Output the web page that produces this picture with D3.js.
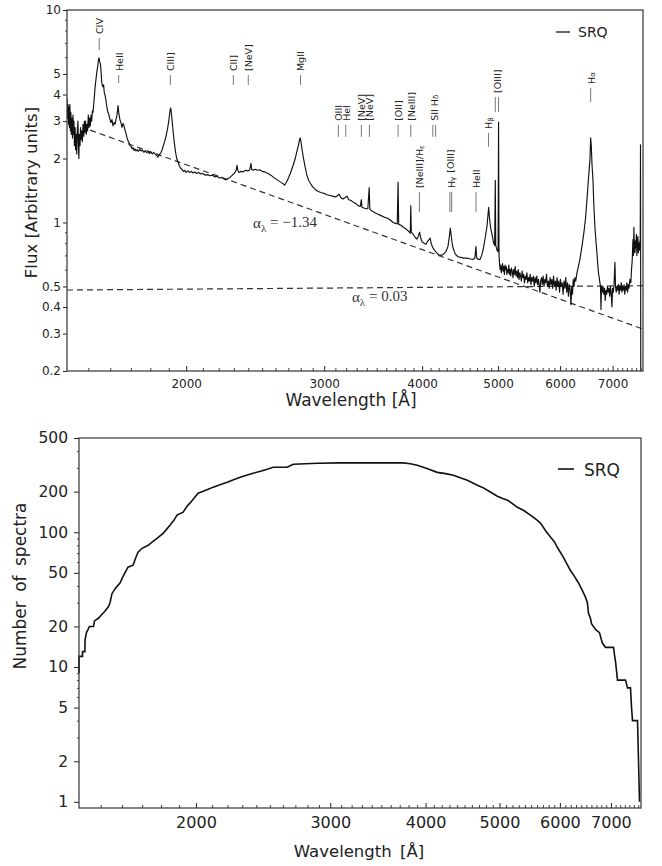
<!DOCTYPE html>
<html>
<head>
<meta charset="utf-8">
<script src="https://cdn.jsdelivr.net/npm/d3@7"></script>
<style>
  body { margin: 0; background: #fff; }
  svg { display: block; }
</style>
</head>
<body>
<div id="chart"></div>
<script>
// ---- data ----
// composite spectrum: [wavelength (A), flux]
const srqSpectrum = [
  [1409,3.85],[1411,3.1],[1413,3.6],[1415,2.9],[1417,3.5],[1419,2.8],[1421,3.6],[1423,2.7],
  [1425,3.3],[1427,2.6],[1430,3.1],[1432,2.5],[1434,3.2],[1436,2.6],[1438,3.0],[1440,2.3],
  [1443,2.8],[1445,2.2],[1447,2.6],[1450,2.1],[1452,2.7],[1455,3.0],[1457,2.3],[1459,2.0],
  [1461,2.6],[1464,2.3],[1466,2.8],[1468,2.45],[1471,2.7],[1474,2.4],[1477,2.9],[1480,2.55],
  [1483,3.0],[1485,2.65],[1488,3.0],[1491,2.6],[1494,2.9],[1497,2.7],[1500,3.2],[1503,2.8],
  [1506,3.1],[1509,2.85],[1512,3.2],[1515,3.0],[1518,3.35],[1521,3.3],[1524,3.6],[1527,3.9],
  [1530,4.3],[1533,4.6],[1536,4.9],[1539,5.2],[1542,5.4],[1545,5.8],[1548,5.95],[1551,5.7],
  [1554,5.6],[1557,5.2],[1560,4.6],[1563,4.4],[1566,4.35],[1569,4.45],[1572,4.1],[1576,3.95],
  [1580,3.75],[1584,3.5],[1589,3.3],[1594,3.2],[1599,3.05],[1603,2.95],[1608,3.05],[1613,2.85],
  [1618,2.95],[1623,2.9],[1627,3.05],[1632,3.2],[1637,3.55],[1641,3.25],[1646,3.05],[1651,2.95],
  [1656,2.8],[1661,2.92],[1666,2.85],[1671,2.72],[1676,2.62],[1681,2.5],[1686,2.42],[1691,2.38],
  [1696,2.3],[1701,2.28],[1706,2.22],[1711,2.25],[1716,2.18],[1721,2.22],[1726,2.17],[1731,2.2],
  [1738,2.16],[1745,2.21],[1752,2.17],[1759,2.19],[1766,2.14],[1773,2.18],[1780,2.13],[1788,2.16],
  [1795,2.11],[1802,2.15],[1810,2.1],[1818,2.14],[1825,2.1],[1833,2.07],[1841,2.03],[1848,2.09],
  [1856,2.12],[1863,2.2],[1870,2.3],[1878,2.42],[1885,2.55],[1893,2.75],[1901,3.05],[1907,3.35],
  [1911,3.46],[1915,3.25],[1920,2.95],[1926,2.6],[1932,2.35],[1938,2.15],[1945,2.0],[1952,1.93],
  [1960,1.85],[1968,1.8],[1975,1.78],[1983,1.74],[1991,1.76],[1999,1.72],[2010,1.75],[2020,1.72],
  [2030,1.74],[2040,1.71],[2050,1.73],[2062,1.7],[2075,1.72],[2088,1.69],[2100,1.7],[2115,1.67],
  [2130,1.68],[2145,1.66],[2160,1.67],[2175,1.64],[2190,1.65],[2205,1.62],[2220,1.63],[2235,1.6],
  [2248,1.59],[2260,1.61],[2275,1.63],[2290,1.67],[2305,1.71],[2316,1.76],[2322,1.86],[2327,1.76],
  [2335,1.72],[2350,1.74],[2365,1.73],[2380,1.76],[2395,1.75],[2410,1.76],[2419,1.9],[2424,1.78],
  [2435,1.76],[2450,1.78],[2465,1.76],[2480,1.77],[2500,1.74],[2520,1.73],[2543,1.7],[2565,1.67],
  [2585,1.63],[2605,1.6],[2625,1.57],[2645,1.54],[2660,1.52],[2670,1.5],[2680,1.53],[2697,1.6],
  [2715,1.7],[2737,1.85],[2755,2.0],[2770,2.18],[2782,2.32],[2790,2.45],[2796,2.5],[2803,2.38],
  [2811,2.2],[2823,2.0],[2835,1.84],[2850,1.68],[2865,1.58],[2880,1.53],[2900,1.47],[2928,1.42],
  [2950,1.4],[2975,1.38],[3000,1.37],[3025,1.35],[3050,1.34],[3075,1.33],[3097,1.32],[3115,1.33],
  [3133,1.36],[3150,1.31],[3170,1.29],[3190,1.31],[3208,1.33],[3225,1.28],[3245,1.27],[3265,1.25],
  [3290,1.23],[3315,1.2],[3335,1.19],[3346,1.28],[3352,1.18],[3370,1.17],[3390,1.16],[3410,1.16],
  [3424,1.46],[3430,1.16],[3442,1.14],[3470,1.12],[3503,1.1],[3540,1.08],[3575,1.06],[3607,1.05],
  [3640,1.03],[3672,1.0],[3700,0.99],[3718,0.985],[3727,1.55],[3734,0.98],[3760,0.97],[3785,0.95],
  [3803,0.94],[3830,0.92],[3855,0.9],[3863,0.89],[3869,1.2],[3875,0.9],[3895,0.88],[3920,0.85],
  [3940,0.835],[3955,0.86],[3970,0.9],[3985,0.84],[4000,0.81],[4020,0.8],[4045,0.79],[4070,0.82],
  [4095,0.845],[4110,0.79],[4129,0.76],[4150,0.74],[4175,0.72],[4200,0.705],[4230,0.7],[4260,0.71],
  [4290,0.73],[4315,0.77],[4335,0.87],[4345,0.94],[4355,0.88],[4370,0.79],[4385,0.75],[4410,0.71],
  [4444,0.69],[4480,0.685],[4520,0.68],[4563,0.68],[4600,0.675],[4644,0.67],[4670,0.68],[4685,0.77],
  [4695,0.68],[4720,0.67],[4741,0.67],[4765,0.7],[4790,0.76],[4815,0.85],[4840,0.96],[4855,1.1],
  [4864,1.18],[4875,1.05],[4895,0.93],[4915,0.87],[4935,0.8],[4950,0.78],[4959,1.58],[4966,0.78],
  [4985,0.74],[5000,0.73],[5007,2.97],[5014,0.7],[5022,0.64],[5030,0.6],[5040,0.63],[5048,0.58],
  [5058,0.61],[5066,0.64],[5075,0.59],[5084,0.62],[5094,0.57],[5103,0.63],[5112,0.6],[5122,0.62],
  [5131,0.57],[5140,0.6],[5150,0.58],[5160,0.63],[5170,0.57],[5180,0.6],[5190,0.56],[5200,0.61],
  [5212,0.59],[5224,0.55],[5235,0.6],[5246,0.57],[5258,0.62],[5270,0.56],[5282,0.59],[5294,0.55],
  [5306,0.6],[5318,0.54],[5330,0.58],[5342,0.56],[5354,0.53],[5366,0.59],[5378,0.55],[5390,0.57],
  [5403,0.52],[5416,0.56],[5429,0.54],[5442,0.58],[5455,0.52],[5468,0.55],[5481,0.53],[5494,0.57],
  [5507,0.51],[5520,0.55],[5533,0.53],[5546,0.56],[5560,0.5],[5574,0.55],[5588,0.52],[5602,0.56],
  [5616,0.51],[5630,0.54],[5644,0.5],[5654,0.47],[5666,0.53],[5680,0.55],[5694,0.51],[5708,0.56],
  [5722,0.5],[5736,0.54],[5750,0.52],[5765,0.57],[5780,0.5],[5795,0.53],[5810,0.49],[5825,0.55],
  [5840,0.51],[5855,0.54],[5870,0.49],[5885,0.56],[5900,0.5],[5915,0.53],[5930,0.48],[5945,0.55],
  [5960,0.5],[5975,0.53],[5990,0.47],[6005,0.54],[6020,0.5],[6036,0.52],[6052,0.46],[6068,0.53],
  [6084,0.49],[6100,0.55],[6116,0.47],[6132,0.52],[6148,0.45],[6164,0.51],[6180,0.48],[6194,0.41],
  [6208,0.5],[6222,0.46],[6236,0.54],[6250,0.5],[6266,0.55],[6282,0.53],[6304,0.58],[6330,0.62],
  [6359,0.67],[6400,0.78],[6435,0.9],[6465,1.05],[6492,1.28],[6520,1.6],[6549,1.97],[6563,2.5],
  [6575,2.3],[6590,1.85],[6607,1.6],[6625,1.2],[6646,0.95],[6665,0.82],[6685,0.72],[6700,0.64],
  [6715,0.58],[6730,0.55],[6744,0.52],[6755,0.5],[6765,0.39],[6775,0.5],[6790,0.47],[6805,0.5],
  [6820,0.46],[6835,0.49],[6850,0.43],[6865,0.48],[6880,0.46],[6895,0.5],[6910,0.47],[6925,0.49],
  [6940,0.45],[6955,0.5],[6970,0.47],[6986,0.4],[7000,0.49],[7015,0.47],[7030,0.51],[7048,0.65],
  [7060,0.5],[7075,0.47],[7090,0.5],[7105,0.48],[7120,0.51],[7135,0.46],[7150,0.5],[7165,0.48],
  [7180,0.52],[7195,0.47],[7210,0.5],[7225,0.48],[7240,0.51],[7255,0.46],[7270,0.5],[7285,0.48],
  [7300,0.52],[7315,0.47],[7330,0.51],[7345,0.49],[7365,0.54],[7385,0.52],[7400,0.6],[7415,0.66],
  [7431,0.83],[7442,0.7],[7452,0.95],[7464,0.74],[7475,0.72],[7486,0.82],[7496,0.76],[7507,0.88],
  [7518,0.7],[7529,0.8],[7540,0.86],[7551,0.72],[7562,0.8],[7573,0.74],[7585,0.82],[7592,0.78],
  [7598,2.32],[7604,0.2]
];

// power-law continua (end points), slopes as labelled
const powerLawSteep = [[1508, 2.72], [7654, 0.315]];
const powerLawFlat = [[1409, 0.481], [7654, 0.504]];
const powerLawLabels = ['\u22121.34', '0.03'];

// emission line marks: name, wavelength(s) of the tick(s), tick extent in flux units
const lineNames = ['CIV', 'HeII', 'CIII]', 'CII]', '[NeV]', 'MgII', 'OIII', 'HeI', '[NeV]', '[NeV]',
  '[OII]', '[NeIII]', 'SII H_δ', '[NeIII]/H_ε', 'H_γ [OIII]', 'HeII', 'H_β', '[OIII]', 'H_α'];
const lineWaves = [[1549], [1640], [1909], [2297], [2400], [2798], [3127], [3196], [3346], [3426],
  [3727], [3869], [4128, 4162], [3968], [4340, 4363], [4686], [4861], [4959, 5007], [6563]];
const lineTickTop = [7.38, 4.94, 4.94, 4.94, 4.94, 4.94, 2.88, 2.88, 2.88, 2.88,
  2.88, 2.88, 2.88, 1.39, 1.39, 1.39, 2.64, 3.90, 4.30];
const lineTickBottom = [6.48, 4.53, 4.44, 4.44, 4.44, 4.44, 2.53, 2.53, 2.53, 2.53,
  2.53, 2.53, 2.53, 1.12, 1.12, 1.12, 2.27, 3.31, 3.69];

// number of spectra contributing at each wavelength: [wavelength, N]
const srqCoverage = [
  [1405,9],[1405,12],[1420,12],[1420,13],[1430,13],[1431,16],[1437,18],[1444,19],[1450,20],
  [1468,20],[1472,22],[1490,23],[1500,24],[1520,26],[1535,28],[1543,30],[1552,35],[1566,38],
  [1578,40],[1590,42],[1602,46],[1614,50],[1629,55],[1654,57],[1668,65],[1679,71],[1700,76],
  [1731,80],[1755,85],[1778,90],[1811,98],[1830,105],[1850,113],[1870,122],[1889,134],[1924,141],
  [1947,156],[1965,165],[1983,176],[2013,195],[2044,201],[2075,208],[2107,216],[2150,225],
  [2198,235],[2240,245],[2286,256],[2330,265],[2377,274],[2430,283],[2480,293],[2525,303],
  [2634,303],[2683,319],[2885,325],[3092,327],[3740,327],[3820,322],[3901,314],[4000,300],
  [4144,278],[4250,272],[4350,265],[4450,252],[4538,243],[4677,223],[4750,215],[4821,205],
  [4968,185],[5050,178],[5121,173],[5200,163],[5278,153],[5380,145],[5489,134],[5580,125],
  [5658,117],[5750,102],[5832,92],[5900,85],[5956,77],[6065,65],[6130,58],[6195,52],[6270,47],
  [6347,42],[6420,37],[6482,33],[6520,30],[6541,25],[6580,23],[6601,21],[6681,19],[6762,18],
  [6800,16],[6824,15],[6886,14],[7055,14],[7080,12],[7097,11],[7140,8],[7315,8],[7359,7],
  [7426,7],[7449,5],[7471,4],[7585,4],[7608,2],[7631,1]
];

// axis ticks
const waveTicks = [2000, 3000, 4000, 5000, 6000, 7000];
const fluxTicks = [0.2, 0.3, 0.4, 0.5, 1, 2, 3, 4, 5, 10];
const fluxMinorTicks = [0.6, 0.7, 0.8, 0.9, 6, 7, 8, 9];
const countTicks = [1, 2, 5, 10, 20, 50, 100, 200, 500];
const countMinorTicks = [3, 4, 6, 7, 8, 9, 30, 40, 60, 70, 80, 90, 300, 400];
const seriesName = 'SRQ';

// ---- drawing ----
const W = 662, H = 866;
const FONT = "'DejaVu Sans', Verdana, sans-serif";
const SERIF = "'Liberation Serif', 'Times New Roman', serif";
const waveMinorTicks = d3.range(1500, 7700, 100).filter(d => !waveTicks.includes(d));

const svg = d3.select('#chart').append('svg')
  .attr('width', W).attr('height', H)
  .attr('viewBox', `0 0 ${W} ${H}`);
svg.append('rect').attr('width', W).attr('height', H).attr('fill', '#fff');

function drawFrame(g, x, y, box, o) {
  // minor x ticks (inside)
  g.append('g')
    .attr('transform', `translate(0,${box.bottom})`)
    .call(d3.axisBottom(x).tickValues(waveMinorTicks.filter(d => d > x.domain()[0] && d < x.domain()[1]))
      .tickSize(-3).tickFormat(''))
    .call(a => a.select('.domain').remove())
    .call(a => a.selectAll('line').attr('stroke', '#444'));

  // major x ticks
  g.append('g')
    .attr('transform', `translate(0,${box.bottom})`)
    .call(d3.axisBottom(x).tickValues(waveTicks).tickSize(-5).tickPadding(o.xPad).tickFormat(d3.format('d')))
    .call(a => a.select('.domain').remove())
    .call(a => a.selectAll('line').attr('stroke', '#222'))
    .call(a => a.selectAll('text').attr('font-family', FONT).attr('font-size', o.xFont).attr('fill', '#222'));

  // minor y ticks (outside)
  g.append('g')
    .attr('transform', `translate(${box.left},0)`)
    .call(d3.axisLeft(y).tickValues(o.yMinor).tickSize(2).tickFormat(''))
    .call(a => a.select('.domain').remove())
    .call(a => a.selectAll('line').attr('stroke', '#444'));

  // major y ticks
  g.append('g')
    .attr('transform', `translate(${box.left},0)`)
    .call(d3.axisLeft(y).tickValues(o.yTicks).tickSize(o.yTick).tickPadding(o.yPad).tickFormat(d => String(d)))
    .call(a => a.select('.domain').remove())
    .call(a => a.selectAll('line').attr('stroke', '#222'))
    .call(a => a.selectAll('text').attr('font-family', FONT).attr('font-size', o.yFont).attr('fill', '#222'));

  // box
  g.append('rect')
    .attr('x', box.left).attr('y', box.top)
    .attr('width', box.right - box.left).attr('height', box.bottom - box.top)
    .attr('fill', 'none').attr('stroke', '#333').attr('stroke-width', 1.2);
}

function addRichText(sel, str, subSize) {
  // "H_β" -> H with subscript beta
  const parts = str.split(/(_.)/).filter(Boolean);
  parts.forEach(p => {
    if (p[0] === '_') {
      sel.append('tspan').attr('dy', '0.3em').attr('font-size', subSize).text(p[1]);
      sel.append('tspan').attr('dy', '-0.3em').text('\u200a');
    } else {
      sel.append('tspan').text(p);
    }
  });
}

// ===== top panel: spectrum =====
const topBox = { left: 67, right: 643, top: 10, bottom: 371 };
const xTop = d3.scaleLog().domain([1409, 7654]).range([topBox.left, topBox.right]);
const yTop = d3.scaleLog().domain([0.2, 10]).range([topBox.bottom, topBox.top]);
const gTop = svg.append('g');

svg.append('defs').append('clipPath').attr('id', 'clip-top')
  .append('rect').attr('x', topBox.left).attr('y', topBox.top)
  .attr('width', topBox.right - topBox.left).attr('height', topBox.bottom - topBox.top);

const specLine = d3.line().x(d => xTop(d[0])).y(d => yTop(d[1]));

// power laws
[powerLawSteep, powerLawFlat].forEach(pl => {
  gTop.append('path')
    .attr('d', specLine(pl))
    .attr('fill', 'none')
    .attr('stroke', '#333')
    .attr('stroke-width', 1.2)
    .attr('stroke-dasharray', '6,4');
});

gTop.append('path')
  .attr('clip-path', 'url(#clip-top)')
  .attr('d', specLine(srqSpectrum))
  .attr('fill', 'none')
  .attr('stroke', '#111')
  .attr('stroke-width', 1.15)
  .attr('stroke-linejoin', 'round');

// slope labels
const alphaAt = [[2434, 0.942], [3255, 0.4225]];
powerLawLabels.forEach((lab, i) => {
  const t = gTop.append('text')
    .attr('x', xTop(alphaAt[i][0])).attr('y', yTop(alphaAt[i][1]))
    .attr('font-family', SERIF).attr('font-size', 15).attr('fill', '#333');
  t.append('tspan').text('\u03b1');
  t.append('tspan').attr('dy', '0.35em').attr('font-size', 11).text('\u03bb');
  t.append('tspan').attr('dy', '-0.35em').text(' = ' + lab);
});

// emission line marks
lineNames.forEach((name, i) => {
  const waves = lineWaves[i];
  const yT = yTop(lineTickTop[i]);
  const yB = yTop(lineTickBottom[i]);
  waves.forEach(w => {
    gTop.append('line')
      .attr('x1', xTop(w)).attr('x2', xTop(w))
      .attr('y1', yT).attr('y2', yB)
      .attr('stroke', '#777').attr('stroke-width', 1);
  });
  const cx = d3.mean(waves, w => xTop(w));
  const t = gTop.append('text')
    .attr('transform', `translate(${cx},${yT - 4}) rotate(-90)`)
    .attr('text-anchor', 'start')
    .attr('dominant-baseline', 'central')
    .attr('font-family', FONT)
    .attr('font-size', 9.5)
    .attr('fill', '#222');
  addRichText(t, name, 7);
});

drawFrame(gTop, xTop, yTop, topBox, {
  xPad: 8, xFont: 12, yTicks: fluxTicks, yMinor: fluxMinorTicks,
  yTick: 4, yPad: 2, yFont: 12
});

// legend
gTop.append('line').attr('x1', 556).attr('x2', 570).attr('y1', 32).attr('y2', 32)
  .attr('stroke', '#111').attr('stroke-width', 1.3);
gTop.append('text').attr('x', 578).attr('y', 37)
  .attr('font-family', FONT).attr('font-size', 14).attr('fill', '#222').text(seriesName);

// axis titles
gTop.append('text')
  .attr('transform', `translate(37,${(topBox.top + topBox.bottom) / 2 + 2}) rotate(-90)`)
  .attr('text-anchor', 'middle')
  .attr('font-family', FONT).attr('font-size', 16.5).attr('fill', '#222')
  .text('Flux [Arbitrary units]');
gTop.append('text')
  .attr('x', 351).attr('y', 406)
  .attr('text-anchor', 'middle')
  .attr('font-family', FONT).attr('font-size', 17).attr('fill', '#222')
  .text('Wavelength [\u00c5]');

// ===== bottom panel: coverage =====
const botBox = { left: 79, right: 641, top: 438, bottom: 808 };
const xBot = d3.scaleLog().domain([1405, 7665]).range([botBox.left, botBox.right]);
const yBot = d3.scaleLog().domain([0.9, 500]).range([botBox.bottom, botBox.top]);
const gBot = svg.append('g');

gBot.append('path')
  .attr('d', d3.line().x(d => xBot(d[0])).y(d => yBot(d[1]))(srqCoverage))
  .attr('fill', 'none')
  .attr('stroke', '#111')
  .attr('stroke-width', 1.6)
  .attr('stroke-linejoin', 'miter');

drawFrame(gBot, xBot, yBot, botBox, {
  xPad: 9, xFont: 16, yTicks: countTicks, yMinor: countMinorTicks,
  yTick: 5, yPad: 6, yFont: 15.5
});

gBot.append('line').attr('x1', 558).attr('x2', 574).attr('y1', 469).attr('y2', 469)
  .attr('stroke', '#111').attr('stroke-width', 1.6);
gBot.append('text').attr('x', 584).attr('y', 476)
  .attr('font-family', FONT).attr('font-size', 17).attr('fill', '#222').text(seriesName);

gBot.append('text')
  .attr('transform', `translate(26,586) rotate(-90)`)
  .attr('text-anchor', 'middle')
  .attr('font-family', FONT).attr('font-size', 17).attr('fill', '#222')
  .attr('word-spacing', 4)
  .text('Number of spectra');
gBot.append('text')
  .attr('x', 359).attr('y', 857)
  .attr('text-anchor', 'middle')
  .attr('font-family', FONT).attr('font-size', 16.5).attr('fill', '#222')
  .attr('word-spacing', 3)
  .text('Wavelength [\u00c5]');
</script>
</body>
</html>
